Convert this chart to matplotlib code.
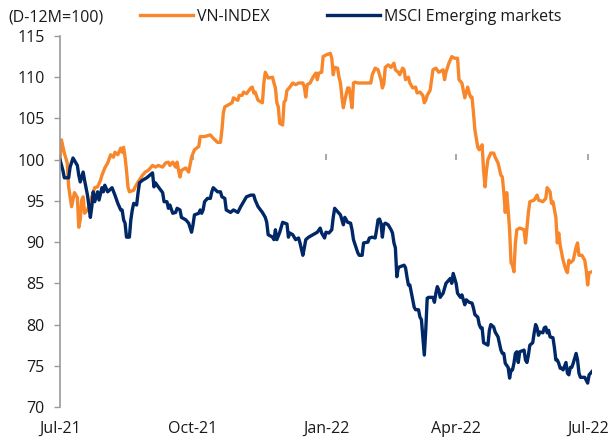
import matplotlib
matplotlib.use("Agg")
import matplotlib.pyplot as plt
import pandas as pd

plt.rcParams['font.family'] = ['Open Sans', 'DejaVu Sans']

start_date = "2021-07-01"

# VN-INDEX (D-12M = 100): days since start, index value
vn_days = [0, 1, 3, 5, 6, 7, 8, 10, 12, 13, 14, 15, 16, 17, 19, 22, 24, 26, 28, 29, 31, 33,
           35, 37, 38, 40, 42, 43, 44, 45, 46, 47, 48, 51, 52, 54, 57, 59, 61, 64, 66, 68, 71,
           73, 75, 76, 78, 80, 81, 82, 83, 84, 87, 89, 91, 93, 96, 97, 100, 104, 106, 109, 111,
           112, 113, 114, 116, 119, 120, 123, 124, 126, 127, 129, 132, 133, 134, 135, 137, 140,
           141, 142, 144, 147, 148, 149, 150, 151, 152, 154, 155, 156, 157, 159, 161, 163, 165,
           168, 169, 170, 171, 173, 175, 177, 178, 179, 181, 182, 184, 187, 188, 189, 190, 192,
           193, 194, 195, 196, 197, 199, 200, 201, 202, 203, 204, 206, 215, 216, 218, 220, 222,
           223, 224, 225, 227, 229, 231, 232, 234, 235, 237, 238, 239, 241, 242, 244, 246, 247,
           249, 251, 252, 253, 254, 256, 258, 260, 262, 265, 266, 267, 269, 271, 273, 275, 276,
           278, 280, 282, 283, 284, 285, 286, 287, 289, 290, 292, 293, 294, 295, 296, 298, 300,
           301, 303, 305, 306, 307, 308, 309, 310, 311, 312, 313, 314, 315, 316, 318, 321, 322,
           323, 324, 325, 328, 330, 331, 334, 336, 337, 339, 340, 341, 343, 344, 345, 346, 348,
           350, 351, 352, 353, 355, 357, 358, 359, 361, 363, 364, 365, 366, 368]
vn_vals = [100.0, 102.4, 100.8, 99.6, 96.7, 95.5, 94.3, 96.0, 95.4, 91.8, 92.7, 95.1, 95.5, 93.5,
           93.9, 95.5, 96.6, 96.7, 97.5, 98.1, 99.0, 99.6, 100.6, 100.3, 100.9, 100.6, 101.4,
           100.9, 101.5, 100.3, 98.7, 96.7, 96.1, 96.3, 96.7, 97.3, 98.1, 98.5, 98.7, 99.3, 99.1,
           99.3, 99.1, 99.6, 99.7, 99.3, 99.7, 99.1, 99.7, 98.7, 97.9, 98.7, 99.0, 98.5, 100.3,
           101.2, 101.6, 102.8, 102.8, 103.0, 102.6, 102.1, 102.1, 103.6, 105.7, 106.4, 106.6,
           106.9, 107.5, 107.2, 107.8, 107.8, 108.2, 108.0, 108.7, 108.8, 108.1, 108.2, 107.2,
           106.9, 109.3, 110.6, 109.9, 110.0, 109.3, 108.7, 106.9, 106.4, 104.4, 104.2, 107.0,
           107.2, 108.4, 108.8, 109.3, 109.1, 109.3, 109.3, 108.8, 107.6, 109.1, 109.3, 110.0,
           110.5, 109.7, 110.5, 110.6, 112.5, 112.7, 112.9, 112.3, 110.3, 111.2, 111.1, 110.0,
           109.3, 107.6, 106.3, 107.2, 108.7, 108.7, 107.6, 106.3, 109.3, 109.4, 109.3, 109.3,
           110.3, 111.1, 110.9, 109.7, 108.7, 109.2, 111.2, 111.5, 111.2, 111.7, 110.9, 110.6,
           110.3, 111.1, 110.9, 109.7, 110.0, 109.3, 108.7, 108.8, 108.1, 108.2, 107.8, 106.9,
           107.2, 107.8, 108.4, 110.9, 111.1, 110.6, 110.9, 109.7, 110.6, 111.7, 112.5, 112.3,
           112.3, 109.7, 109.3, 107.5, 108.8, 108.1, 107.6, 107.6, 105.7, 103.6, 101.5, 101.2,
           101.8, 98.7, 96.7, 98.7, 100.0, 100.8, 100.8, 100.3, 99.6, 98.1, 97.9, 96.0, 93.6,
           96.0, 93.9, 91.5, 87.5, 87.2, 86.4, 89.9, 91.5, 91.7, 91.5, 89.9, 91.8, 93.6, 94.9,
           95.1, 95.7, 95.1, 94.9, 95.3, 96.6, 96.1, 94.7, 94.9, 93.0, 89.9, 91.1, 89.6, 87.8,
           86.6, 86.3, 87.8, 87.5, 87.8, 89.4, 89.9, 88.4, 88.4, 87.8, 86.6, 84.8, 86.3, 86.4]

# MSCI Emerging markets (D-12M = 100)
em_days = [0, 2, 3, 6, 7, 9, 12, 13, 14, 16, 17, 19, 21, 22, 23, 24, 26, 27, 29, 30, 31, 33, 36,
           38, 40, 42, 43, 44, 45, 46, 48, 49, 50, 51, 53, 54, 55, 57, 60, 62, 64, 65, 66, 68,
           71, 72, 74, 75, 76, 78, 80, 81, 83, 84, 87, 89, 91, 92, 93, 96, 97, 98, 99, 100, 102,
           104, 105, 106, 109, 111, 112, 114, 115, 118, 120, 123, 125, 127, 129, 132, 134, 135,
           137, 140, 142, 143, 144, 147, 148, 149, 150, 152, 153, 154, 157, 158, 159, 161, 163,
           165, 166, 168, 169, 170, 172, 175, 178, 180, 181, 183, 184, 186, 188, 189, 190, 193,
           194, 195, 196, 197, 199, 201, 202, 203, 206, 207, 209, 210, 213, 214, 216, 218, 219,
           220, 221, 222, 223, 224, 225, 227, 229, 230, 231, 232, 233, 234, 235, 238, 239, 240,
           241, 242, 244, 245, 246, 248, 249, 250, 251, 252, 253, 254, 255, 258, 259, 260, 261,
           262, 263, 265, 267, 269, 270, 271, 272, 274, 275, 277, 278, 280, 281, 283, 285, 286,
           287, 289, 290, 291, 292, 293, 296, 297, 298, 300, 301, 303, 305, 306, 307, 308, 310,
           311, 312, 313, 314, 315, 316, 317, 318, 321, 322, 323, 324, 325, 327, 328, 329, 330,
           331, 332, 334, 335, 336, 337, 338, 339, 341, 342, 343, 344, 345, 346, 347, 348, 350,
           351, 352, 353, 354, 355, 357, 358, 359, 360, 362, 363, 365, 366, 367, 368]
em_vals = [100.0, 98.7, 97.8, 97.8, 99.1, 100.2, 99.3, 98.1, 97.3, 98.5, 97.5, 95.7, 93.0, 94.3,
           96.1, 94.9, 96.1, 95.1, 96.6, 96.1, 96.9, 96.1, 96.6, 95.7, 94.7, 93.9, 93.9, 92.7,
           92.3, 90.6, 90.6, 92.7, 93.9, 94.7, 94.5, 96.0, 97.2, 97.5, 97.8, 98.1, 98.4, 96.7,
           97.2, 96.7, 96.0, 94.9, 94.9, 94.1, 94.5, 93.5, 93.6, 94.1, 93.9, 93.0, 92.7, 92.3,
           91.2, 92.1, 93.3, 93.5, 93.9, 93.5, 93.9, 94.9, 95.3, 95.3, 96.1, 96.6, 96.1, 96.1,
           95.5, 95.3, 93.9, 93.6, 93.9, 93.6, 94.3, 94.9, 95.5, 95.7, 95.7, 95.1, 94.3, 93.6,
           93.0, 92.4, 90.9, 90.6, 90.3, 91.5, 90.3, 91.2, 91.8, 92.4, 92.2, 90.6, 91.1, 90.9,
           90.3, 90.5, 89.9, 88.4, 89.3, 90.3, 90.6, 90.9, 91.2, 91.7, 91.1, 90.5, 91.2, 91.1,
           91.5, 93.0, 94.1, 93.5, 93.3, 92.7, 92.1, 93.0, 92.4, 92.3, 91.5, 90.3, 88.7, 88.4,
           88.4, 89.9, 90.0, 90.5, 90.6, 90.5, 91.5, 92.7, 92.8, 92.3, 90.6, 92.1, 92.3, 92.1,
           91.5, 91.1, 89.9, 89.3, 85.8, 86.9, 87.0, 87.2, 86.9, 85.8, 84.8, 84.8, 83.0, 82.1,
           81.8, 81.8, 80.9, 80.6, 78.4, 76.3, 79.3, 83.2, 83.3, 83.3, 82.7, 83.8, 84.6, 84.2,
           83.3, 83.8, 85.0, 85.4, 85.6, 85.0, 86.2, 85.0, 83.8, 83.3, 83.6, 82.4, 83.0, 82.7,
           82.6, 82.0, 81.2, 80.9, 80.0, 79.6, 79.6, 77.8, 77.5, 79.3, 80.0, 79.7, 79.1, 78.5,
           76.9, 76.5, 76.5, 75.3, 74.8, 73.5, 74.5, 74.5, 75.3, 76.5, 76.7, 75.4, 76.7, 76.9,
           75.7, 75.4, 76.3, 77.5, 77.8, 79.0, 80.0, 79.6, 78.7, 79.1, 79.0, 79.6, 79.7, 79.0,
           79.3, 78.5, 78.4, 77.2, 75.7, 75.7, 75.3, 74.7, 74.7, 74.5, 75.4, 74.1, 73.9, 74.8,
           74.8, 75.3, 76.5, 75.7, 74.1, 73.6, 73.6, 73.6, 72.9, 73.9, 74.1, 74.3]

tick_dates = ["2021-07-01", "2021-10-01", "2022-01-01", "2022-04-01", "2022-07-01"]
tick_labels = ["Jul-21", "Oct-21", "Jan-22", "Apr-22", "Jul-22"]
y_ticks = [70, 75, 80, 85, 90, 95, 100, 105, 110, 115]

ORANGE = "#F7872A"
NAVY = "#002766"
GRAY = "#9A9A9A"
TEXT = "#1a1a1a"
FS = 11.5

t0 = pd.Timestamp(start_date)
vn_x = t0 + pd.to_timedelta(vn_days, unit="D")
em_x = t0 + pd.to_timedelta(em_days, unit="D")
ticks_x = pd.to_datetime(tick_dates)

fig = plt.figure(figsize=(6.09, 4.42), dpi=100)
ax = fig.add_axes([60/609, 1-407/442, (592-60)/609, (407-36)/442])

l1, = ax.plot(vn_x, vn_vals, color=ORANGE, lw=2.4, label="VN-INDEX", solid_joinstyle="round")
l2, = ax.plot(em_x, em_vals, color=NAVY, lw=2.4, label="MSCI Emerging markets", solid_joinstyle="round")

ax.set_xlim(t0, t0 + pd.Timedelta(days=368))
ax.set_ylim(70, 115)
ax.set_yticks(y_ticks)
ax.tick_params(axis="y", direction="out", length=4, width=1, color=GRAY, pad=7,
               labelsize=FS, labelcolor=TEXT)
ax.set_xticks(ticks_x)
ax.set_xticklabels(tick_labels)
ax.tick_params(axis="x", length=0, pad=10, labelsize=FS, labelcolor=TEXT)

for s in ["top", "right", "bottom"]:
    ax.spines[s].set_visible(False)
ax.spines["left"].set_color(GRAY)
ax.spines["left"].set_linewidth(1.2)

# horizontal axis line at 100 with tick marks
sec = ax.secondary_xaxis((100 - 70) / (115 - 70))
sec.set_xticks(ticks_x)
sec.set_xticklabels([])
sec.tick_params(axis="x", direction="out", length=4, width=1.2, color=GRAY)
sec.spines["bottom"].set_color(GRAY)
sec.spines["bottom"].set_linewidth(1.5)
for s in ["top", "left", "right"]:
    sec.spines[s].set_visible(False)

fig.text(8/609, 1-17/442, "(D-12M=100)", fontsize=FS, color=TEXT, va="center", ha="left")
fig.legend(handles=[l1, l2], loc="center left", bbox_to_anchor=(140/609, 1-17/442), ncol=2,
           frameon=False, fontsize=FS, handlelength=3.3, handletextpad=0.25,
           columnspacing=3.6, borderaxespad=0, borderpad=0)
for t in fig.legends[0].get_texts():
    t.set_color(TEXT)

fig.savefig("out.png", dpi=100)
